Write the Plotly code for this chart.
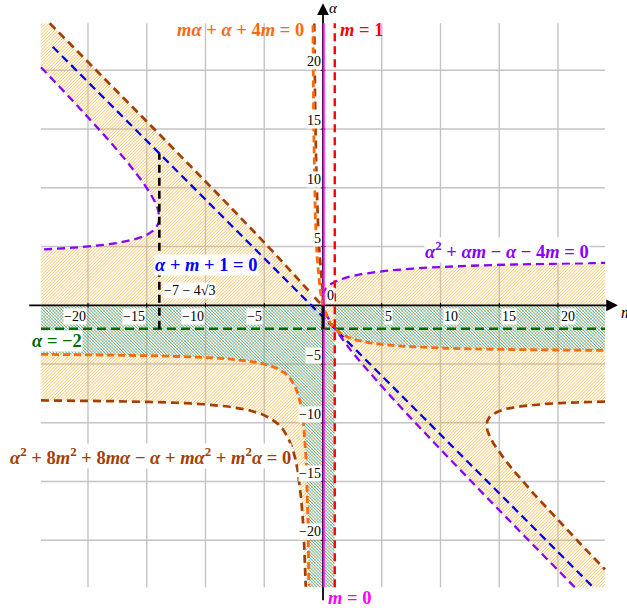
import numpy as np
import plotly.graph_objects as go

# ---- chart values ----
LIM = 24
grid_ticks = [-20, -15, -10, -5, 5, 10, 15, 20]
x_tick_labels = ['−20', '−15', '−10', '−5', '5', '10', '15', '20']
y_tick_labels = ['−20', '−15', '−10', '−5', '5', '10', '15', '20']

# curves written as quadratics in alpha: a(m)*alpha^2 + b(m)*alpha + c(m) = 0
# alpha^2 + alpha*m - alpha - 4m = 0
purple_coef = lambda m: (np.ones_like(m), m - 1, -4 * m)
# alpha^2 + 8m^2 + 8m*alpha - alpha + m*alpha^2 + m^2*alpha = 0
brown_coef = lambda m: (1 + m, m * m + 8 * m - 1, 8 * m * m)
# m*alpha + alpha + 4m = 0
orange_line = lambda m: -4 * m / (m + 1)
# alpha + m + 1 = 0
blue_line = lambda m: -m - 1
green_level = -2
red_m = 1
magenta_m = 0
m_star = -7 - 4 * np.sqrt(3)    # black marker line
p_vertex = [-7 - 4 * np.sqrt(3), -7 + 4 * np.sqrt(3)]
b_vertex = [7 - 4 * np.sqrt(3), 7 + 4 * np.sqrt(3)]

def f_P(m, a):
    return a * a + a * m - a - 4 * m

def f_B(m, a):
    return a * a + 8 * m * m + 8 * m * a - a + m * a * a + m * m * a

def f_O(m, a):
    return m * a + a + 4 * m

# colours
C_ORANGE = '#ff6a0d'
C_BROWN = '#a43f00'
C_PURPLE = '#8a00ff'
C_BLUE = '#0000ff'
C_GREEN = '#006c00'
C_RED = '#ff0000'
C_MAGENTA = '#ff00ff'
C_GRID = '#c4c4c4'
C_HATCH_O = 'rgba(255,175,45,0.85)'
C_HATCH_T = 'rgba(15,160,180,0.85)'


def msamples(lo, hi, n=8000, cluster=()):
    m = [np.linspace(lo, hi, n)]
    for p in cluster:
        d = np.logspace(-7, 0, 800)
        m += [p + d, p - d]
    m = np.concatenate(m)
    m = m[(m >= lo) & (m <= hi)]
    return np.unique(m)


def roots(coef, m):
    a, b, c = coef(m)
    s = np.sqrt(np.clip(b * b - 4 * a * c, 0, None))
    r1 = (-b + s) / (2 * a)
    r2 = (-b - s) / (2 * a)
    return np.maximum(r1, r2), np.minimum(r1, r2)


def clip(y):
    y = np.array(y, dtype=float)
    y[(y > LIM) | (y < -LIM)] = np.nan
    return y


def join(parts):
    xs, ys = [], []
    for x, y in parts:
        xs += list(x) + [None]
        ys += [None if np.isnan(v) else v for v in y] + [None]
    return xs, ys


def hatch(mask, slope, step):
    xs, ys = [], []
    t = np.linspace(-LIM, LIM, 4801)
    for c in np.arange(-2 * LIM, 2 * LIM, step):
        y = slope * t + c
        inside = (y >= -LIM) & (y <= LIM) & mask(t, y)
        if not inside.any():
            continue
        d = np.diff(inside.astype(int))
        starts = list(np.where(d == 1)[0] + 1)
        ends = list(np.where(d == -1)[0])
        if inside[0]:
            starts = [0] + starts
        if inside[-1]:
            ends = ends + [len(t) - 1]
        for s, e in zip(starts, ends):
            xs += [t[s], t[e], None]
            ys += [y[s], y[e], None]
    return xs, ys


teal_mask = lambda m, a: (a < 0) & (f_O(m, a) * (m - 1) > 0)
orange_mask = lambda m, a: ((f_B(m, a) > 0) & (f_P(m, a) * (m + 1) < 0)) | teal_mask(m, a)

fig = go.Figure()

# grid
gx, gy = [], []
for v in grid_ticks:
    gx += [v, v, None, -LIM, LIM, None]
    gy += [-LIM, LIM, None, v, v, None]
fig.add_trace(go.Scatter(x=gx, y=gy, mode='lines', line=dict(color=C_GRID, width=1.4), hoverinfo='skip'))

# hatched regions
hx, hy = hatch(orange_mask, 1, 0.27)
fig.add_trace(go.Scatter(x=hx, y=hy, mode='lines', line=dict(color=C_HATCH_O, width=0.9), hoverinfo='skip'))
tx, ty = hatch(teal_mask, -1, 0.27)
fig.add_trace(go.Scatter(x=tx, y=ty, mode='lines', line=dict(color=C_HATCH_T, width=0.9), hoverinfo='skip'))

# axes
fig.add_trace(go.Scatter(x=[-25, 24.6, None, 0, 0], y=[0, 0, None, -25.1, 25.0], mode='lines',
                         line=dict(color='black', width=1.8), hoverinfo='skip'))
fig.add_annotation(x=25.1, y=0, ax=24.0, ay=0, xref='x', yref='y', axref='x', ayref='y', text='',
                   showarrow=True, arrowhead=2, arrowsize=1.3, arrowwidth=1.8, arrowcolor='black')
fig.add_annotation(x=0, y=25.7, ax=0, ay=24.6, xref='x', yref='y', axref='x', ayref='y', text='',
                   showarrow=True, arrowhead=2, arrowsize=1.3, arrowwidth=1.8, arrowcolor='black')
kx, ky = [], []
for v in grid_ticks:
    kx += [v, v, None, -0.2, 0.2, None]
    ky += [-0.2, 0.2, None, v, v, None]
fig.add_trace(go.Scatter(x=kx, y=ky, mode='lines', line=dict(color='black', width=1), hoverinfo='skip'))

dash = '8px,5px'

# green alpha = -2
fig.add_trace(go.Scatter(x=[-LIM, LIM], y=[green_level, green_level], mode='lines',
                         line=dict(color=C_GREEN, width=2.5, dash='9px,5px')))

# blue line
mb = np.array([-LIM + 1, LIM - 1])
fig.add_trace(go.Scatter(x=mb, y=blue_line(mb), mode='lines', line=dict(color=C_BLUE, width=2.3, dash=dash)))

# purple curve
parts = []
m = msamples(-LIM, p_vertex[0], cluster=[p_vertex[0]])
up, lo = roots(purple_coef, m)
parts.append((np.r_[m, m[::-1]], clip(np.r_[up, lo[::-1]])))
m = msamples(p_vertex[1], LIM, cluster=[p_vertex[1]])
up, lo = roots(purple_coef, m)
parts.append((np.r_[m[::-1], m], clip(np.r_[lo[::-1], up])))
px_, py_ = join(parts)
fig.add_trace(go.Scatter(x=px_, y=py_, mode='lines', line=dict(color=C_PURPLE, width=2.3, dash=dash)))

# brown curve
parts = []
m = msamples(-LIM, -1 - 1e-6, n=12000, cluster=[-1])
up, lo = roots(brown_coef, m)
parts += [(m, clip(up)), (m, clip(lo))]
m = msamples(-1 + 1e-6, b_vertex[0], n=12000, cluster=[-1, b_vertex[0]])
up, lo = roots(brown_coef, m)
parts.append((np.r_[m, m[::-1]], clip(np.r_[up, lo[::-1]])))
m = msamples(b_vertex[1], LIM, cluster=[b_vertex[1]])
up, lo = roots(brown_coef, m)
parts.append((np.r_[m[::-1], m], clip(np.r_[up[::-1], lo])))
bx, by = join(parts)
fig.add_trace(go.Scatter(x=bx, y=by, mode='lines', line=dict(color=C_BROWN, width=2.7, dash=dash)))

# orange curve
parts = []
for lo_, hi_ in [(-LIM, -1 - 1e-6), (-1 + 1e-6, LIM)]:
    m = msamples(lo_, hi_, n=12000, cluster=[-1])
    parts.append((m, clip(orange_line(m))))
ox, oy = join(parts)
fig.add_trace(go.Scatter(x=ox, y=oy, mode='lines', line=dict(color=C_ORANGE, width=2.8, dash='7px,4px')))

# vertical lines m = 1 and m = 0
fig.add_trace(go.Scatter(x=[red_m, red_m], y=[-LIM, LIM], mode='lines',
                         line=dict(color=C_RED, width=2.4, dash=dash)))
fig.add_trace(go.Scatter(x=[magenta_m + 0.06, magenta_m + 0.06], y=[-LIM, LIM], mode='lines',
                         line=dict(color=C_MAGENTA, width=2.0)))

# black markers
fig.add_trace(go.Scatter(x=[m_star, m_star], y=[green_level, blue_line(m_star)], mode='lines',
                         line=dict(color='black', width=2.6, dash=dash)))
fig.add_trace(go.Scatter(x=[0, 0], y=[0, green_level], mode='lines', line=dict(color='black', width=3)))

# tick labels
FONT = 'Liberation Serif'
for v, s in zip(grid_ticks, x_tick_labels):
    fig.add_annotation(x=v, y=-0.25, text=s, showarrow=False, xanchor='right' if v < 0 else 'left',
                       yanchor='top', xshift=-1 if v < 0 else 2, bgcolor='white', borderpad=0,
                       font=dict(family=FONT, size=14, color='black'))
for v, s in zip(grid_ticks, y_tick_labels):
    fig.add_annotation(x=-0.1, y=v, text=s, showarrow=False, xanchor='right', yanchor='bottom',
                       bgcolor='white', borderpad=0, font=dict(family=FONT, size=14, color='black'))
fig.add_annotation(x=0.25, y=0.15, text='0', showarrow=False, xanchor='left', yanchor='bottom',
                   bgcolor='white', borderpad=0, font=dict(family=FONT, size=14, color='black'))
fig.add_annotation(x=0.3, y=25.3, text='<i>α</i>', showarrow=False, xanchor='left', yanchor='middle',
                   font=dict(family=FONT, size=15, color='black'))
fig.add_annotation(x=25.2, y=-0.6, text='<i>m</i>', showarrow=False, xanchor='left', yanchor='middle',
                   font=dict(family=FONT, size=16, color='black'))

# curve labels
labels = [
    ('<b><i>mα</i> + <i>α</i> + 4<i>m</i> = 0</b>', -1.5, 23.4, 'right', C_ORANGE, None),
    ('<b><i>m</i> = 1</b>', 1.4, 23.4, 'left', C_RED, None),
    ('<b><i>α</i> + <i>m</i> + 1 = 0</b>', -9.9, 3.4, 'center', C_BLUE, 'white'),
    ('<b><i>α</i><sup>2</sup> + <i>αm</i> − <i>α</i> − 4<i>m</i> = 0</b>', 15.7, 4.7, 'center', C_PURPLE, 'white'),
    ('<b><i>α</i> = −2</b>', -22.6, -3.0, 'center', C_GREEN, 'white'),
    ('<b><i>α</i><sup>2</sup> + 8<i>m</i><sup>2</sup> + 8<i>mα</i> − <i>α</i> + <i>mα</i><sup>2</sup>'
     ' + <i>m</i><sup>2</sup><i>α</i> = 0</b>', -14.7, -12.8, 'center', C_BROWN, 'white'),
    ('<b><i>m</i> = 0</b>', 0.3, -24.9, 'left', C_MAGENTA, None),
]
for text, x, y, xa, col, bg in labels:
    fig.add_annotation(x=x, y=y, text=text, showarrow=False, xanchor=xa, yanchor='middle',
                       bgcolor=bg if bg else 'rgba(0,0,0,0)', borderpad=0,
                       font=dict(family=FONT, size=18.5, color=col))
fig.add_annotation(x=m_star + 0.35, y=1.3, text='−7 − 4√3', showarrow=False, xanchor='left',
                   yanchor='middle', bgcolor='white', borderpad=0,
                   font=dict(family=FONT, size=14, color='black'))

fig.update_layout(width=627, height=612, margin=dict(l=0, r=0, t=0, b=0),
                  plot_bgcolor='white', paper_bgcolor='white', showlegend=False)
fig.update_xaxes(range=[-323 / 11.75, 304 / 11.75], visible=False)
fig.update_yaxes(range=[-306.7 / 11.75, 305.3 / 11.75], visible=False)

fig.write_html("out.html", config={'displayModeBar': False},
               post_script="document.body.style.margin='0';")
